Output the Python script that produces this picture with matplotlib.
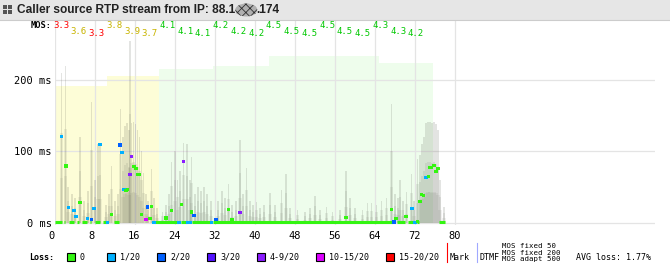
import matplotlib
matplotlib.use("Agg")
import matplotlib.pyplot as plt
from matplotlib.patches import Rectangle, Ellipse
from matplotlib import transforms

# ---- values ----
mos_values = [3.3, 3.6, 3.3, 3.8, 3.9, 3.7, 4.1, 4.1, 4.1, 4.2, 4.2, 4.2,
              4.5, 4.5, 4.5, 4.5, 4.5, 4.5, 4.3, 4.3, 4.2]
mos_first = 1.2    # centre of first MOS label (s)
mos_step = 3.55    # seconds per MOS label

# MOS-coloured background blocks
bg_start = [0.0, 10.4, 20.8, 31.6, 42.8, 64.8]
bg_end = [10.4, 20.8, 31.6, 42.8, 64.8, 75.6]
bg_top = [192, 206, 215, 220, 234, 224]
bg_kind = ['yellow', 'yellow', 'green', 'green', 'green', 'green']

# jitter spikes (time s, height ms)
spike_x = [1.3, 2.1, 2.6, 3.4, 4.0, 5.0, 5.8, 6.6, 7.3, 8.0, 8.6, 9.0, 10.2,
           10.8, 11.3, 12.0, 12.6, 13.1, 13.6, 14.0, 14.4, 14.8, 15.0, 15.3,
           15.7, 16.1, 16.5, 16.9, 17.3, 17.7, 18.2, 18.6, 19.3, 19.8, 20.4,
           21.5, 22.2, 22.8, 23.3, 24.0, 24.5, 25.0, 25.7, 26.4, 27.0, 27.3,
           28.0, 28.6, 29.2, 29.8, 30.4, 31.2, 32.6, 33.4, 34.0, 34.7, 35.4,
           36.2, 37.0, 37.6, 38.3, 39.0, 39.6, 40.3, 41.0, 41.8, 43.0, 44.0,
           45.3, 46.2, 47.0, 48.5, 50.0, 51.0, 52.0, 53.0, 54.3, 55.5, 57.0,
           58.2, 59.0, 60.0, 61.5, 62.5, 63.3, 64.3, 65.3, 66.3, 67.3, 68.0,
           68.6, 69.0, 69.6, 70.3, 71.3, 71.8, 72.5, 73.0, 73.4, 73.8, 74.2,
           74.6, 75.0, 75.4, 75.8, 76.2, 76.6, 77.0, 77.8]
spike_h = [210, 220, 50, 40, 35, 120, 30, 45, 170, 60, 110, 112, 25,
           40, 80, 30, 40, 160, 120, 135, 140, 130, 255, 140,
           142, 138, 130, 120, 100, 70, 40, 30, 75, 35, 20,
           15, 25, 40, 85, 100, 60, 73, 112, 110, 60, 92,
           40, 50, 45, 50, 40, 30, 30, 45, 35, 55, 25,
           30, 116, 40, 77, 30, 25, 29, 20, 25, 41, 25,
           46, 69, 20, 18, 15, 20, 38, 18, 22, 15, 18,
           73, 35, 20, 18, 27, 27, 25, 30, 35, 167, 40,
           35, 60, 30, 43, 69, 30, 90, 95, 110, 120, 140,
           142, 142, 140, 142, 138, 130, 60, 22]

# loss classes
loss_labels = ['0', '1/20', '2/20', '3/20', '4-9/20', '10-15/20', '15-20/20']
loss_colors = ['#33f511', '#00b0ff', '#0060ff', '#5212ff', '#8a1cff',
               '#dc00ff', '#ff0000']

# runs of 0-loss packets along the floor (start s, end s)
green_runs = [(0.0, 1.3), (1.7, 2.0), (2.7, 3.7), (4.3, 4.7), (5.3, 6.3),
              (7.0, 7.2), (8.0, 9.0), (9.5, 10.3), (11.7, 12.7), (19.9, 24.6),
              (25.1, 26.3), (27.4, 31.0), (31.6, 67.4), (68.3, 70.0),
              (70.5, 71.8), (72.3, 72.7), (76.8, 78.0)]

# single packets (time s, delay ms, loss class)
pt_x = [1.33, 2.2, 2.67, 3.8, 4.2, 5.0, 6.5, 7.3, 7.8, 9.0, 10.5, 11.3, 13.0,
        13.4, 15.3, 15.8, 16.2, 15.0, 16.6, 16.9, 13.8, 14.2, 14.5, 17.3,
        18.5, 19.3, 18.2, 19.0, 19.8, 22.2, 23.3, 24.8, 25.3, 25.7, 26.6,
        27.0, 27.3, 27.8, 31.3, 32.2, 34.7, 35.4, 37.0, 58.2, 67.3, 67.8,
        68.2, 70.2, 71.4, 72.0, 72.5, 73.0, 73.3, 73.7, 74.2, 74.7, 75.0,
        75.3, 75.8, 76.2, 76.6]
pt_y = [121, 79.5, 21, 17, 8.5, 28, 5.7, 4, 19.7, 110, 0.5, 11, 109,
        98, 93.5, 79, 76, 68, 68, 68, 46, 45, 47, 12,
        22, 23, 4, 6, 0.5, 6.6, 17, 0.8, 25, 85.5, 0.5,
        0.5, 15, 10, 0.5, 5, 18, 5, 14, 7, 19, 1,
        6.5, 9, 19.7, 0.3, 2, 30, 40, 38.6, 63, 65, 78,
        78, 80.6, 72, 76]
pt_cls = [1, 0, 1, 1, 1, 0, 1, 2, 1, 1, 1, 0, 2,
          1, 4, 0, 0, 4, 0, 0, 1, 0, 0, 0,
          2, 0, 5, 0, 1, 0, 0, 1, 0, 4, 1,
          1, 0, 2, 1, 2, 0, 0, 4, 0, 0, 2,
          0, 0, 1, 1, 0, 0, 0, 0, 1, 0, 0,
          0, 0, 0, 0]

x_ticks = [0, 8, 16, 24, 32, 40, 48, 56, 64, 72, 80]
y_ticks = [0, 100, 200]
avg_loss = 1.77

mono = 'DejaVu Sans Mono'
W, H = 670, 274
fig = plt.figure(figsize=(W / 100, H / 100), dpi=100)

# main plot area
ax = fig.add_axes([55 / W, 49 / H, 600 / W, 204 / H])
ax.set_xlim(0, 120)
ax.set_ylim(-3.2, 283)
for s in ax.spines.values():
    s.set_visible(False)

for s0, s1, top, kind in zip(bg_start, bg_end, bg_top, bg_kind):
    col = '#fdfdd7' if kind == 'yellow' else '#eefdec'
    ax.add_patch(Rectangle((s0, 0), s1 - s0, top, facecolor=col,
                           edgecolor='none', zorder=0.5))

for xt in x_ticks:
    ax.axvline(xt, color='#e4e4e4', lw=0.9, zorder=1)
for yt in y_ticks:
    ax.axhline(yt, color='#e4e4e4', lw=0.9, zorder=1)

# jitter spikes, drawn in layers so they fade towards the top
gray = '#55594c'
ax.bar(spike_x, spike_h, width=0.32, color=gray, alpha=0.16, lw=0, zorder=2)
ax.bar(spike_x, [h * 0.6 for h in spike_h], width=0.45, color=gray,
       alpha=0.10, lw=0, zorder=2)
ax.bar(spike_x, [h * 0.3 for h in spike_h], width=0.7, color=gray,
       alpha=0.08, lw=0, zorder=2)

for r0, r1 in green_runs:
    ax.plot([r0, r1], [1.7, 1.7], color=loss_colors[0], lw=2.2,
            solid_capstyle='butt', zorder=3)
ax.scatter(pt_x, pt_y, s=5, marker='s', lw=0,
           c=[loss_colors[c] for c in pt_cls], zorder=4)

ax.set_xticks(x_ticks)
ax.set_xticklabels([str(v) for v in x_ticks], fontfamily=mono, fontsize=7.5)
ax.set_yticks(y_ticks)
ax.set_yticklabels(['%d ms' % v for v in y_ticks], fontfamily=mono,
                   fontsize=7.5)
ax.tick_params(length=0, pad=2.5)
ax.tick_params(axis='x', pad=4)
shift = transforms.ScaledTranslation(-7 / 100, 0, fig.dpi_scale_trans)
for lab in ax.get_xticklabels():
    lab.set_ha('left')
    lab.set_transform(lab.get_transform() + shift)

# MOS row at the top of the plot
ax.annotate('MOS:', xy=(0, 1), xycoords='axes fraction', xytext=(-3, -4),
            textcoords='offset pixels', ha='right', va='center',
            fontfamily=mono, fontsize=6.3, fontweight='bold')
levels = [-4.5, -10, -12]
for i, m in enumerate(mos_values):
    if m < 3.5:
        col = '#ff0000'
    elif m < 4.0:
        col = '#c8b400'
    else:
        col = '#00c800'
    ax.annotate('%.1f' % m, xy=(mos_first + i * mos_step, 1),
                xycoords=('data', 'axes fraction'), xytext=(0, levels[i % 3]),
                textcoords='offset pixels', ha='center', va='center',
                color=col, fontfamily=mono, fontsize=6.5)

# overlay in pixel coordinates for header and legend
ov = fig.add_axes([0, 0, 1, 1])
ov.set_xlim(0, W)
ov.set_ylim(H, 0)
ov.set_axis_off()

ov.add_patch(Rectangle((0, 0), W, 20, facecolor='#e6e6e6', edgecolor='none'))
ov.plot([0, W], [20, 20], color='#cccccc', lw=0.8)
for ix, iy in [(3, 5), (8, 5), (3, 10), (8, 10)]:
    ov.add_patch(Rectangle((ix, iy), 4, 4, facecolor='#555555',
                           edgecolor='none'))
t1 = ov.text(17, 10, 'Caller source RTP stream from IP: 88.1', ha='left',
             va='center', fontsize=8.6, fontweight='bold',
             fontfamily='Liberation Sans', color='#222222')
fig.canvas.draw()
x_end = t1.get_window_extent().x1
plt.rcParams['hatch.linewidth'] = 0.6
ov.add_patch(Ellipse((x_end + 11, 10), 22, 13, facecolor='#b0b0b0',
                     edgecolor='#303030', hatch='xxxx', lw=0))
ov.text(x_end + 21, 10, '.174', ha='left', va='center', fontsize=8.6,
        fontweight='bold', fontfamily='Liberation Sans', color='#222222')

ly = 257
ov.text(29, ly, 'Loss:', ha='left', va='center', fontfamily=mono,
        fontsize=6, fontweight='bold')
sq_left = [67, 107, 157, 207, 257, 316, 386]
for lx, col, lab in zip(sq_left, loss_colors, loss_labels):
    ov.add_patch(Rectangle((lx, ly - 4), 8, 8, facecolor=col,
                           edgecolor='black', lw=0.8))
    ov.text(lx + 13, ly, lab, ha='left', va='center', fontfamily=mono,
            fontsize=6)
ov.plot([447, 447], [243, 262], color='#ff0000', lw=0.8)
ov.text(450, ly, 'Mark', ha='left', va='center', fontfamily=mono, fontsize=6)
ov.plot([477, 477], [243, 262], color='#a0a8ff', lw=0.8)
ov.text(480, ly, 'DTMF', ha='left', va='center', fontfamily=mono, fontsize=6)
for k, txt in enumerate(['MOS fixed 50', 'MOS fixed 200', 'MOS adapt 500']):
    ov.text(502, 246 + k * 6.6, txt, ha='left', va='center', fontfamily=mono,
            fontsize=5.3)
ov.text(576, ly, 'AVG loss: %.2f%%' % avg_loss, ha='left', va='center',
        fontfamily=mono, fontsize=6)

fig.savefig('out.png', dpi=100, facecolor='white')
